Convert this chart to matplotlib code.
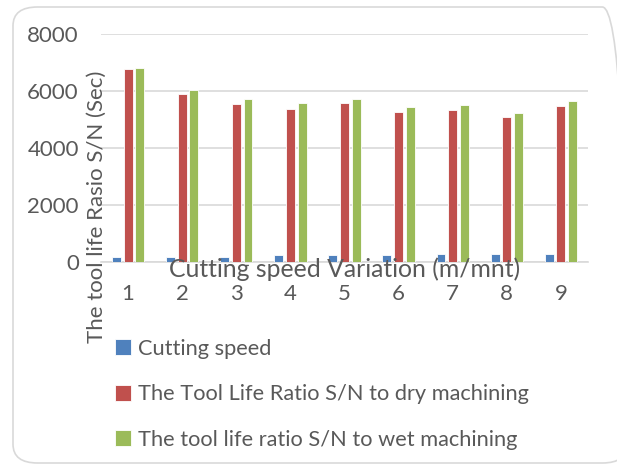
import matplotlib
matplotlib.use("Agg")
import matplotlib.pyplot as plt
from matplotlib.patches import FancyBboxPatch
import numpy as np

categories = ["1", "2", "3", "4", "5", "6", "7", "8", "9"]
cutting_speed = [190, 190, 190, 235, 235, 235, 285, 285, 285]
dry_ratio = [6770, 5880, 5560, 5360, 5585, 5280, 5325, 5105, 5480]
wet_ratio = [6800, 6040, 5725, 5570, 5725, 5430, 5500, 5230, 5665]
series_names = [
    "Cutting speed",
    "The Tool Life Ratio S/N to dry machining",
    "The tool life ratio S/N to wet machining",
]
y_ticks = [0, 2000, 4000, 6000, 8000]

TEXT = "#595959"
GRID = "#D9D9D9"
COLORS = ["#4F81BD", "#C0504D", "#9BBB59"]
FONT = ["Lato", "DejaVu Sans"]

plt.rcParams["font.family"] = FONT

W, H = 617, 468
fig = plt.figure(figsize=(W / 100, H / 100), dpi=100)

# rounded chart border
border = FancyBboxPatch((13 / W, 5 / H), (W + 10 - 13) / W, (461 - 5) / H,
                        boxstyle="round,pad=0,rounding_size=0.04",
                        transform=fig.transFigure, facecolor="none",
                        edgecolor=GRID, linewidth=1.2, zorder=-1)
fig.patches.append(border)

left, right, bottom, top = 101, 588, 262, 34
ax = fig.add_axes([left / W, 1 - bottom / H, (right - left) / W, (bottom - top) / H])
ax.patch.set_alpha(0)

x = np.arange(len(categories))
step, width = 0.217, 0.165
handles = []
for i, (vals, col) in enumerate(zip([cutting_speed, dry_ratio, wet_ratio], COLORS)):
    h = ax.bar(x + (i - 1) * step, vals, width, color=col, edgecolor="white",
               linewidth=0.6, zorder=3, label=series_names[i])
    handles.append(h)

ax.set_xlim(-0.5, len(categories) - 0.5)
ax.set_ylim(0, 8000)
ax.set_yticks(y_ticks)
ax.set_yticklabels([str(v) for v in y_ticks])
ax.set_xticks(x)
ax.set_xticklabels(categories)
ax.grid(axis="y", color=GRID, linewidth=1.2, zorder=0)
for s in ["top", "right", "left"]:
    ax.spines[s].set_visible(False)
ax.spines["bottom"].set_color(GRID)
ax.spines["bottom"].set_linewidth(1.2)
ax.tick_params(axis="both", length=0, colors=TEXT, labelsize=16)
ax.tick_params(axis="x", pad=15.5)
ax.tick_params(axis="y", pad=16)

h_ax = bottom - top
# x-axis title sits right on the axis line, drawn above the bars
ax.text(0.5, (bottom - 277) / h_ax, "Cutting speed Variation (m/mnt)",
        transform=ax.transAxes, ha="center", va="baseline", fontsize=17.8,
        color=TEXT, zorder=6, clip_on=False)
ax.set_ylabel("The tool life Rasio S/N (Sec)", fontsize=16, color=TEXT)
ax.yaxis.set_label_coords((97 - left) / (right - left), (bottom - 207) / h_ax)
ax.yaxis.label.set_va("center")

leg = fig.legend(handles=handles, labels=series_names, loc="upper left",
                 bbox_to_anchor=(95 / W, 1 - 319 / H), frameon=False,
                 fontsize=15.7, labelcolor=TEXT, handlelength=0.75,
                 handleheight=0.75, handletextpad=0.3, labelspacing=1.17)

fig.savefig("out.png", dpi=100)
